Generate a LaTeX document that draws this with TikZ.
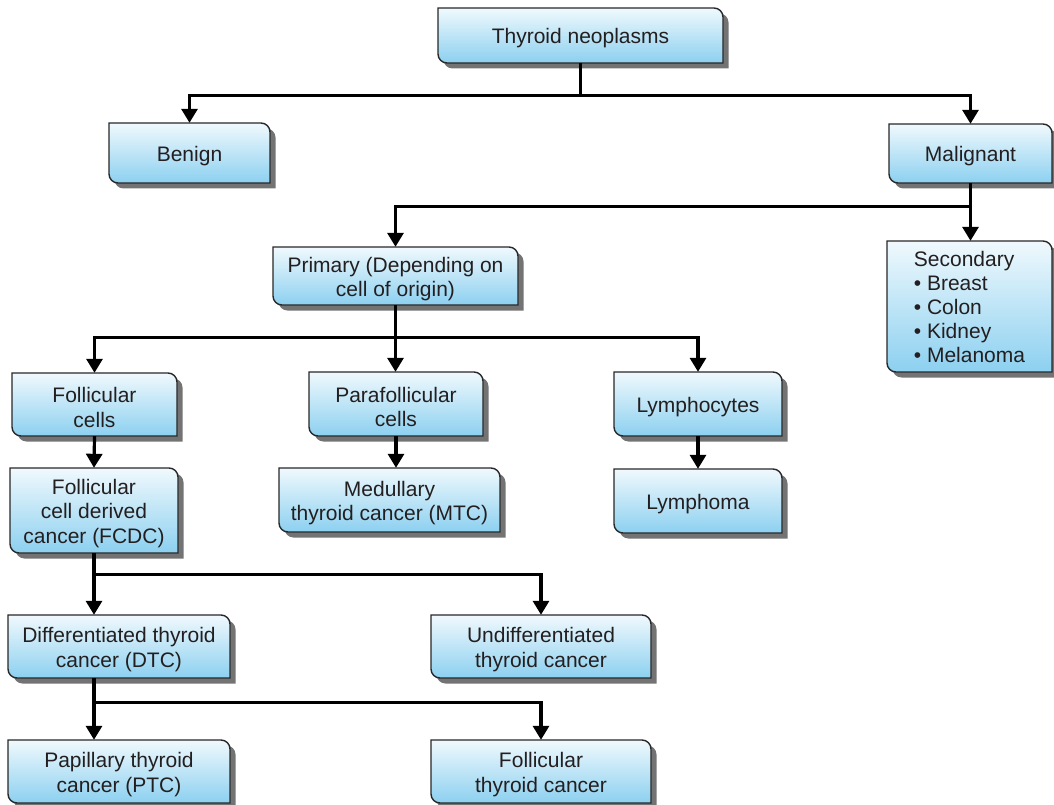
\documentclass[tikz,border=0pt]{standalone}
\usepackage{fontspec}
\setmainfont{Liberation Sans}
\usetikzlibrary{arrows.meta}
\definecolor{boxtop}{RGB}{240,249,253}
\definecolor{boxbot}{RGB}{140,208,240}
\definecolor{boxline}{RGB}{40,40,40}
\definecolor{shadowc}{RGB}{115,115,115}
\definecolor{txt}{RGB}{35,31,32}
\newcommand\bshape[4]{(#1,-#2) -- ({#3-9},-#2) .. controls ({#3-4},-#2) and (#3,{-#2-4}) .. (#3,{-#2-9}) -- (#3,-#4) -- ({#1+9},-#4) .. controls ({#1+4},-#4) and (#1,{-#4+4}) .. (#1,{-#4+9}) -- cycle}
\newcommand\bx[6]{%
  \fill[shadowc,shift={(5.5,-5.5)}] \bshape{#2}{#3}{#4}{#5};
  \shade[top color=boxtop,bottom color=boxbot] \bshape{#2}{#3}{#4}{#5};
  \draw[boxline,line width=1.4pt] \bshape{#2}{#3}{#4}{#5};
  \node[boxarea,minimum width={(#4-#2)*1pt},minimum height={(#5-#3)*1pt}] (#1) at ({(#2+#4)/2},{-(#3+#5)/2}) {};
  \node[boxtext] (#1-t) at ([yshift=-3pt]#1.center) {#6};
}
\tikzset{
  boxarea/.style={inner sep=0pt},
  boxtext/.style={font=\fontsize{21}{24.5}\selectfont,align=center,inner sep=0pt,text=txt},
  conn/.style={line width=3.2pt,black},
  arr/.style={conn,-{Triangle[width=16pt,length=14pt]}}
}
\begin{document}
\begin{tikzpicture}[x=1pt,y=1pt]
\useasboundingbox (0,0) rectangle (1054,-805);
\bx{top}{438}{8}{723}{63}{Thyroid neoplasms}
\bx{benign}{109}{123}{270}{183}{Benign}
\bx{mal}{889}{124}{1052}{183}{Malignant}
\bx{sec}{887}{241}{1052}{372}{\fontsize{21}{24}\selectfont\begin{tabular}{@{}l@{}}Secondary\\• Breast\\• Colon\\• Kidney\\• Melanoma\end{tabular}}
\bx{prim}{273}{247}{518}{305}{Primary (Depending on\\cell of origin)}
\bx{fol}{12}{373}{177}{436}{Follicular\\cells}
\bx{para}{309}{372}{483}{436}{Parafollicular\\cells}
\bx{lym}{614}{372}{782}{436}{Lymphocytes}
\bx{fcdc}{10}{468}{178}{553}{Follicular\\cell derived\\cancer (FCDC)}
\bx{mtc}{279}{468}{500}{532}{Medullary\\thyroid cancer (MTC)}
\bx{lymph}{614}{469}{782}{533}{Lymphoma}
\bx{dtc}{8}{615}{230}{678}{Differentiated thyroid\\cancer (DTC)}
\bx{und}{431}{615}{651}{678}{Undifferentiated\\thyroid cancer}
\bx{ptc}{8}{740}{230}{803}{Papillary thyroid\\cancer (PTC)}
\bx{ftc}{431}{740}{651}{803}{Follicular\\thyroid cancer}
% connectors
\draw[conn] (top.south) -- ++(0,-32) coordinate (j1);
\draw[arr] (j1) -| (benign.north);
\draw[arr] (j1) -| (mal.north);
\draw[arr] (mal.south) -- (mal.south |- sec.north);
\draw[arr] ([yshift=-23pt]mal.south) -| (prim.north);
\draw[conn] (prim.south) -- ++(0,-32) coordinate (j2);
\draw[arr] (j2) -| (fol.north);
\draw[arr] (j2) -| (lym.north);
\draw[arr] (j2) -- (j2 |- para.north);
\draw[arr] (fol.south) -- (fcdc.north);
\draw[arr] (para.south) -- (para.south |- mtc.north);
\draw[arr] (lym.south) -- (lymph.north);
\draw[conn] (fcdc.south) -- ++(0,-21) coordinate (j3);
\draw[arr] (j3) -| (und.north);
\draw[arr] (j3) -- (j3 |- dtc.north);
\draw[conn] (fcdc.south |- dtc.south) -- ++(0,-24) coordinate (j4);
\draw[arr] (j4) -| (ftc.north);
\draw[arr] (j4) -- (j4 |- ptc.north);
\end{tikzpicture}
\end{document}
